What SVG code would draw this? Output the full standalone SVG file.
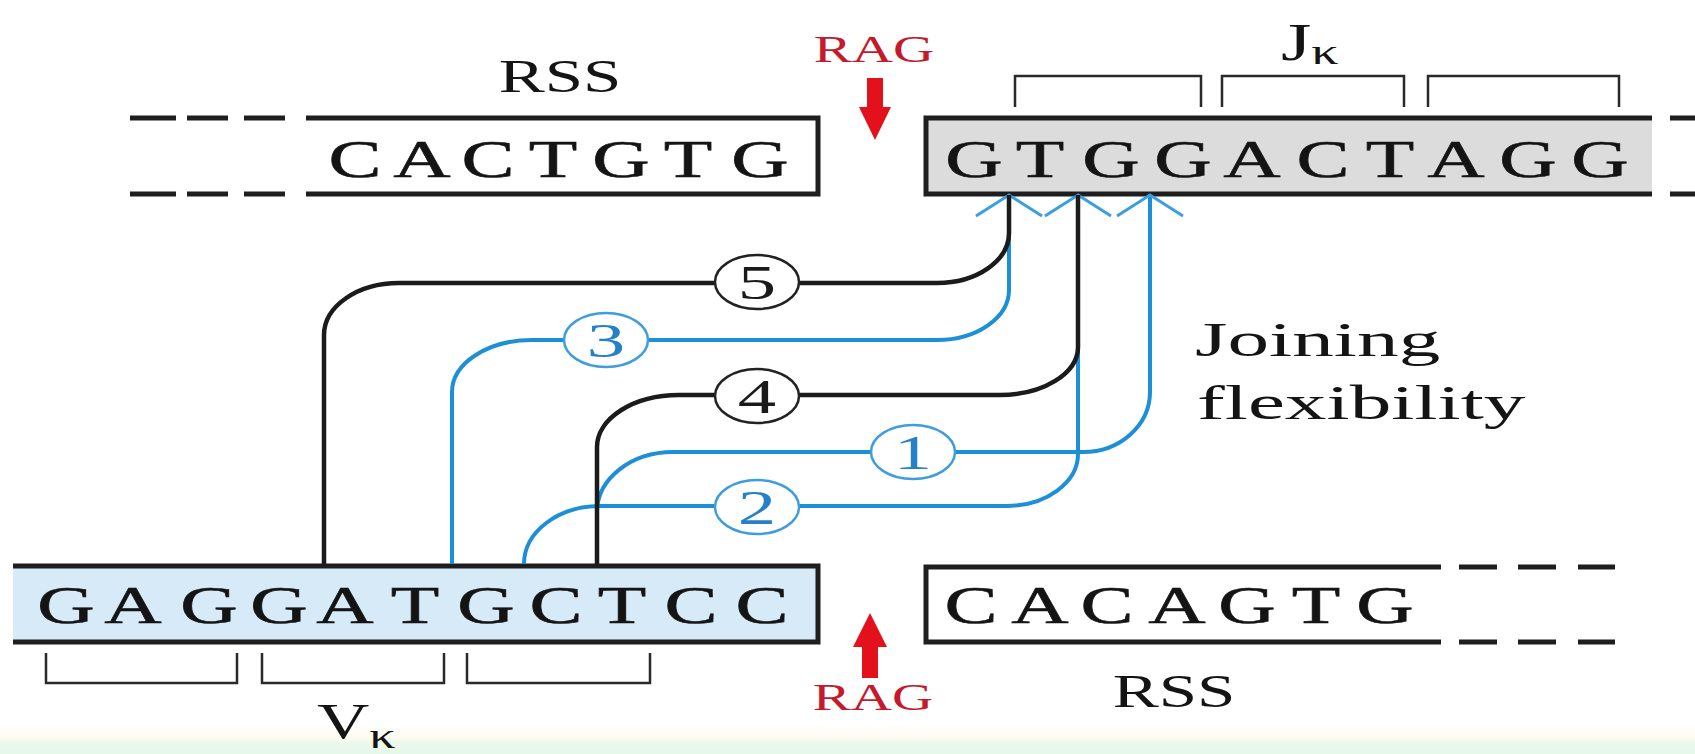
<svg xmlns="http://www.w3.org/2000/svg" width="1695" height="754" viewBox="0 0 1695 754">
  <defs>
    <style>
      .seq { font-family: "Liberation Serif", "Times New Roman", serif; font-size: 53px; fill: #141414; stroke: #141414; stroke-width: 0.6; text-anchor: middle; }
      .lbl { font-family: "Liberation Serif", "Times New Roman", serif; fill: #141414; }
      .rag { font-family: "Liberation Serif", "Times New Roman", serif; font-size: 38px; fill: #c41a2c; text-anchor: middle; }
      .edge { fill: none; stroke: #1e1e1e; stroke-width: 5; }
      .dash { fill: none; stroke: #1e1e1e; stroke-width: 5; }
      .brk { fill: none; stroke: #2a2a2a; stroke-width: 2.5; }
      .k { fill: none; stroke: #1b1b1b; stroke-width: 4.5; }
      .b { fill: none; stroke: #1d8fd6; stroke-width: 4; marker-end: url(#chev); }
      .ck { fill: #ffffff; stroke: #222222; stroke-width: 2.5; }
      .cb { fill: #ffffff; stroke: #3f9ddb; stroke-width: 2.5; }
      .num { font-family: "Liberation Serif", "Times New Roman", serif; font-size: 48px; text-anchor: middle; }
      .nk { fill: #1a1a1a; }
      .nb { fill: #2680c8; }
      .redarrow { fill: #e3111c; }
    </style>
    <marker id="chev" markerUnits="userSpaceOnUse" markerWidth="80" markerHeight="80" viewBox="-40 -40 80 80" refX="0" refY="0" orient="auto" overflow="visible">
      <path d="M -21 -33 L 0 0 L -21 33" fill="none" stroke="#3a9fe0" stroke-width="3"/>
    </marker>
    <linearGradient id="foot" x1="0" y1="0" x2="0" y2="1">
      <stop offset="0" stop-color="#ffffff"/>
      <stop offset="0.45" stop-color="#fdfcf0"/>
      <stop offset="0.6" stop-color="#ecf9ec"/>
      <stop offset="1" stop-color="#e6f8ea"/>
    </linearGradient>
  </defs>

  <rect x="0" y="0" width="1695" height="754" fill="#ffffff"/>
  <rect x="0" y="724" width="1695" height="30" fill="url(#foot)"/>

  <!-- upper RSS segment, open to the left -->
  <g id="rss-top">
    <path class="dash" d="M130 118 H176 M187 118 H228 M244 118 H285 M130 194 H176 M187 194 H228 M244 194 H285"/>
    <path class="edge" d="M306 118 H818 V194 H306"/>
    <text class="seq" transform="scale(1.5 1)" x="236.7 281.3 325.3 368.7 414 458.7 506.7" y="177">CACTGTG</text>
    <text class="lbl" font-size="46" text-anchor="middle" transform="translate(560 92) scale(1.5 1)">RSS</text>
  </g>

  <!-- J kappa segment -->
  <g id="j-kappa">
    <rect x="926" y="118" width="726" height="76" fill="#dcdcdc"/>
    <path class="edge" d="M1652 118 H926 V194 H1652"/>
    <path class="dash" d="M1670 118 H1695 M1670 194 H1695"/>
    <text class="seq" transform="scale(1.5 1)" x="649.3 693.3 740.7 788.7 834.7 882 926.7 970.7 1018.7 1066.7" y="177">GTGGACTAGG</text>
    <path class="brk" d="M1015 107 V76 H1201 V107 M1222 107 V76 H1404 V107 M1428 107 V76 H1619 V107"/>
    <text class="lbl" font-size="52" transform="translate(1281 60) scale(1.5 1)">J<tspan font-size="36" dy="4">κ</tspan></text>
  </g>

  <!-- V kappa segment, open to the left -->
  <g id="v-kappa">
    <rect x="13" y="566" width="805" height="76" fill="#d6eaf8"/>
    <path class="edge" d="M13 566 H818 V642 H13"/>
    <text class="seq" transform="scale(1.5 1)" x="44 88.7 139.3 186 230 276.7 324 370.7 414.7 460.7 508" y="623">GAGGATGCTCC</text>
    <path class="brk" d="M46 653 V683 H237 V653 M262 653 V683 H444 V653 M467 653 V683 H650 V653"/>
    <text class="lbl" font-size="50" transform="translate(317 738) scale(1.45 1)">V<tspan font-size="36" dy="10">κ</tspan></text>
  </g>

  <!-- lower RSS segment, open to the right -->
  <g id="rss-bottom">
    <path class="edge" d="M1441 567 H926 V642 H1441"/>
    <path class="dash" d="M1459 567 H1497 M1518 567 H1556 M1578 567 H1615 M1459 642 H1497 M1518 642 H1556 M1578 642 H1615"/>
    <text class="seq" transform="scale(1.5 1)" x="647.3 693.3 738 784.7 831.3 877.3 923.3" y="623">CACAGTG</text>
    <text class="lbl" font-size="46" text-anchor="middle" transform="translate(1174 707) scale(1.5 1)">RSS</text>
  </g>

  <!-- RAG cleavage sites -->
  <g id="rag-top">
    <text class="rag" transform="translate(874 62) scale(1.5 1)">RAG</text>
    <path class="redarrow" d="M867 78 H883 V107 H891 L875 140 L859 107 H867 Z"/>
  </g>
  <g id="rag-bottom">
    <text class="rag" transform="translate(873 710) scale(1.5 1)">RAG</text>
    <path class="redarrow" d="M862 678 H878 V647 H887 L870 613 L853 647 H862 Z"/>
  </g>

  <!-- joining paths -->
  <g id="connectors">
    <path id="path-3" class="b" d="M452 564 V392 A80 52 0 0 1 532 340 H937 A72 50 0 0 0 1009 290 V195"/>
    <path id="path-1" class="b" d="M597 564 V512 A76 60 0 0 1 673 452 H1083 A67 60 0 0 0 1150 392 V195"/>
    <path id="path-2" class="b" d="M524 564 A76 58 0 0 1 600 506 H1006 A72 52 0 0 0 1078 454 V195"/>
    <path id="path-5" class="k" d="M324 564 V335 A75 52 0 0 1 399 283 H937 A72 50 0 0 0 1009 233 V195"/>
    <path id="path-4" class="k" d="M597 564 V447 A82 52 0 0 1 679 395 H1000 A78 48 0 0 0 1078 347 V195"/>
  </g>

  <g id="join-5">
    <ellipse class="ck" cx="757" cy="282" rx="42" ry="27"/>
    <text class="num nk" transform="translate(757 299) scale(1.6 1)">5</text>
  </g>
  <g id="join-3">
    <ellipse class="cb" cx="606" cy="340" rx="42" ry="27"/>
    <text class="num nb" transform="translate(606 357) scale(1.6 1)">3</text>
  </g>
  <g id="join-4">
    <ellipse class="ck" cx="757" cy="396" rx="42" ry="27"/>
    <text class="num nk" transform="translate(757 413) scale(1.6 1)">4</text>
  </g>
  <g id="join-1">
    <ellipse class="cb" cx="913" cy="452" rx="42" ry="27"/>
    <text class="num nb" transform="translate(913 469) scale(1.6 1)">1</text>
  </g>
  <g id="join-2">
    <ellipse class="cb" cx="757" cy="507" rx="42" ry="27"/>
    <text class="num nb" transform="translate(757 524) scale(1.6 1)">2</text>
  </g>

  <g id="caption">
    <text class="lbl" font-size="49" transform="translate(1195 356) scale(1.7 1)">Joining</text>
    <text class="lbl" font-size="49" transform="translate(1197 419) scale(1.7 1)">flexibility</text>
  </g>
</svg>
